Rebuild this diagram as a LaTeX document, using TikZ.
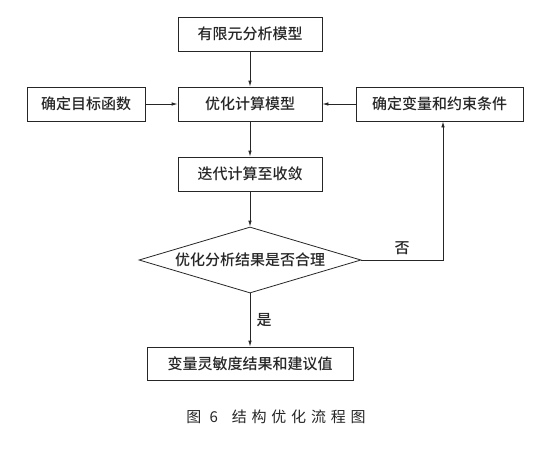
\documentclass[tikz,border=0pt]{standalone}
\usepackage{fontspec}
\newfontfamily\cjk{Noto Sans CJK SC}[BoldFont={Noto Sans CJK SC Medium}]
\newfontfamily\cjkcap{Noto Sans CJK SC}[LetterSpace=32]
\usetikzlibrary{shapes.geometric}
\usetikzlibrary{arrows.meta}
\usetikzlibrary{positioning}

\begin{document}
\begin{tikzpicture}[x = 1pt, y = -1pt, black!85, line width = 0.8pt,
    >={Latex[length=6pt, width=3.5pt]},
    stepbox/.style = {rectangle, draw, fill = white, minimum height = 34pt, inner sep = 0pt,
        font = \cjk\bfseries\fontsize{15}{18}\selectfont},
    checkbox/.style = {diamond, draw, fill = white, aspect = 3.36, inner sep = 0pt,
        minimum width = 222pt, minimum height = 66pt,
        font = \cjk\bfseries\fontsize{15}{18}\selectfont},
    answer/.style = {font = \cjk\bfseries\fontsize{15}{18}\selectfont}]

    \fill[white] (0,0) rectangle (559,448);
    \useasboundingbox (0,0) rectangle (559,448);

    \begin{scope}[on grid]

        \node (fem) at (250,34) [stepbox, minimum width = 144pt] {有限元分析模型};

        \node (opt) [stepbox, minimum width = 144pt, below=70pt of fem] {优化计算模型};
        \node (goal) [stepbox, minimum width = 118pt, left=164pt of opt] {确定目标函数};
        \node (vars) [stepbox, minimum width = 167pt, right=189.5pt of opt] {确定变量和约束条件};

        \node (iter) [stepbox, minimum width = 144pt, below=70pt of opt] {迭代计算至收敛};

        \node (check) [checkbox, below=86pt of iter] {优化分析结果是否合理};

        \node (result) [stepbox, minimum width = 206pt, minimum height = 33pt, below=103.5pt of check] {变量灵敏度结果和建议值};

        \draw[->] (fem) -- (opt);
        \draw[->] (goal) -- (opt);
        \draw[->] (vars) -- (opt);
        \draw[->] (opt) -- (iter);
        \draw[->] (iter) -- (check);

        \coordinate (back) at ([xshift = 3.5pt]check.east -| vars.south);
        \draw[->] (check.east) -- node[answer, above = 2pt] {否} (back) -- (back |- vars.south);
        \draw[->] (check) -- node[answer, right = 3pt] {是} (result);

        \node (caption) at (276,417) {\cjkcap\fontsize{15}{18}\selectfont 图 6\hspace{14pt}结构优化流程图};
    \end{scope}

\end{tikzpicture}
\end{document}
